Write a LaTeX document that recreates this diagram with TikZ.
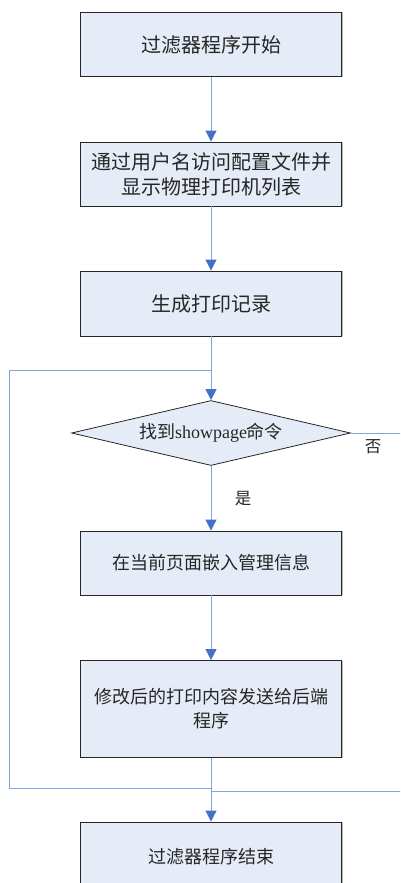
\documentclass[tikz,border=0pt]{standalone}
\usepackage{fontspec}
\setmainfont{Liberation Serif}
\newfontfamily\cjk{Noto Sans CJK SC}
\usetikzlibrary{arrows.meta,shapes.geometric,shadows}
\definecolor{boxfill}{HTML}{E6ECF7}
\definecolor{lineblue}{HTML}{7FA5DC}
\definecolor{tipblue}{HTML}{4472C4}
\begin{document}
\begin{tikzpicture}[x=1pt,y=-1pt,
  stepbox/.style={draw=black!85, line width=0.9pt, fill=boxfill, minimum width=261pt,
    inner sep=0pt, align=center, text=black!85,
    drop shadow={shadow xshift=1.4pt, shadow yshift=0pt, fill=gray!70, opacity=0.8}},
  bigtext/.style={font=\cjk\fontsize{20}{25}\selectfont},
  smalltext/.style={font=\cjk\fontsize{18}{24}\selectfont},
  decision/.style={diamond, draw=black!85, line width=0.8pt, fill=boxfill, inner sep=0pt,
    shape aspect=4.3, minimum width=279pt, minimum height=65pt, text=black!85,
    font=\fontsize{18}{22}\selectfont},
  conn/.style={draw=lineblue, line width=1pt},
  arr/.style={conn, -{Triangle[length=11pt,width=11pt,color=tipblue]}},
  lbl/.style={font=\cjk\fontsize{16.5}{19}\selectfont, text=black!85, inner sep=0pt}]
\useasboundingbox (0,0) rectangle (400,883);
\clip (0,0) rectangle (400,883);

\node[stepbox,bigtext,minimum height=64pt] (b1) at (211,44.5) {过滤器程序开始};
\node[stepbox,bigtext,minimum height=64pt] (b2) at (211,174) {通过用户名访问配置文件并\\显示物理打印机列表};
\node[stepbox,bigtext,minimum height=65pt] (b3) at (211,303.5) {生成打印记录};
\node[decision] (d) at (211,433) {{\cjk 找到}showpage{\cjk 命令}};
\node[stepbox,smalltext,minimum height=64pt] (b4) at (211,563) {在当前页面嵌入管理信息};
\node[stepbox,smalltext,minimum height=97pt] (b5) at (211,709) {修改后的打印内容发送给后端\\程序};
\node[stepbox,smalltext,minimum height=70pt] (b6) at (211,857) {过滤器程序结束};

\node[lbl] (yes) at (243,499) {是};
\node[lbl] (no) at (373,447) {否};

\coordinate (jt) at (211,370);
\coordinate (lt) at (9,370);
\coordinate (lb) at (9,788);
\coordinate (jb) at (211,788);
\coordinate (rt) at (405,433);
\coordinate (rb) at (405,791);
\coordinate (jr) at (211,791);

\draw[arr] (b1) -- (b2);
\draw[arr] (b2) -- (b3);
\draw[arr] (b3) -- (d);
\draw[arr] (d) -- (b4);
\draw[arr] (b4) -- (b5);
\draw[arr] (b5) -- (b6);
\draw[conn] (jb) -- (lb) -- (lt) -- (jt);
\draw[conn] (d.east) -- (rt) -- (rb) -- (jr);
\end{tikzpicture}
\end{document}
